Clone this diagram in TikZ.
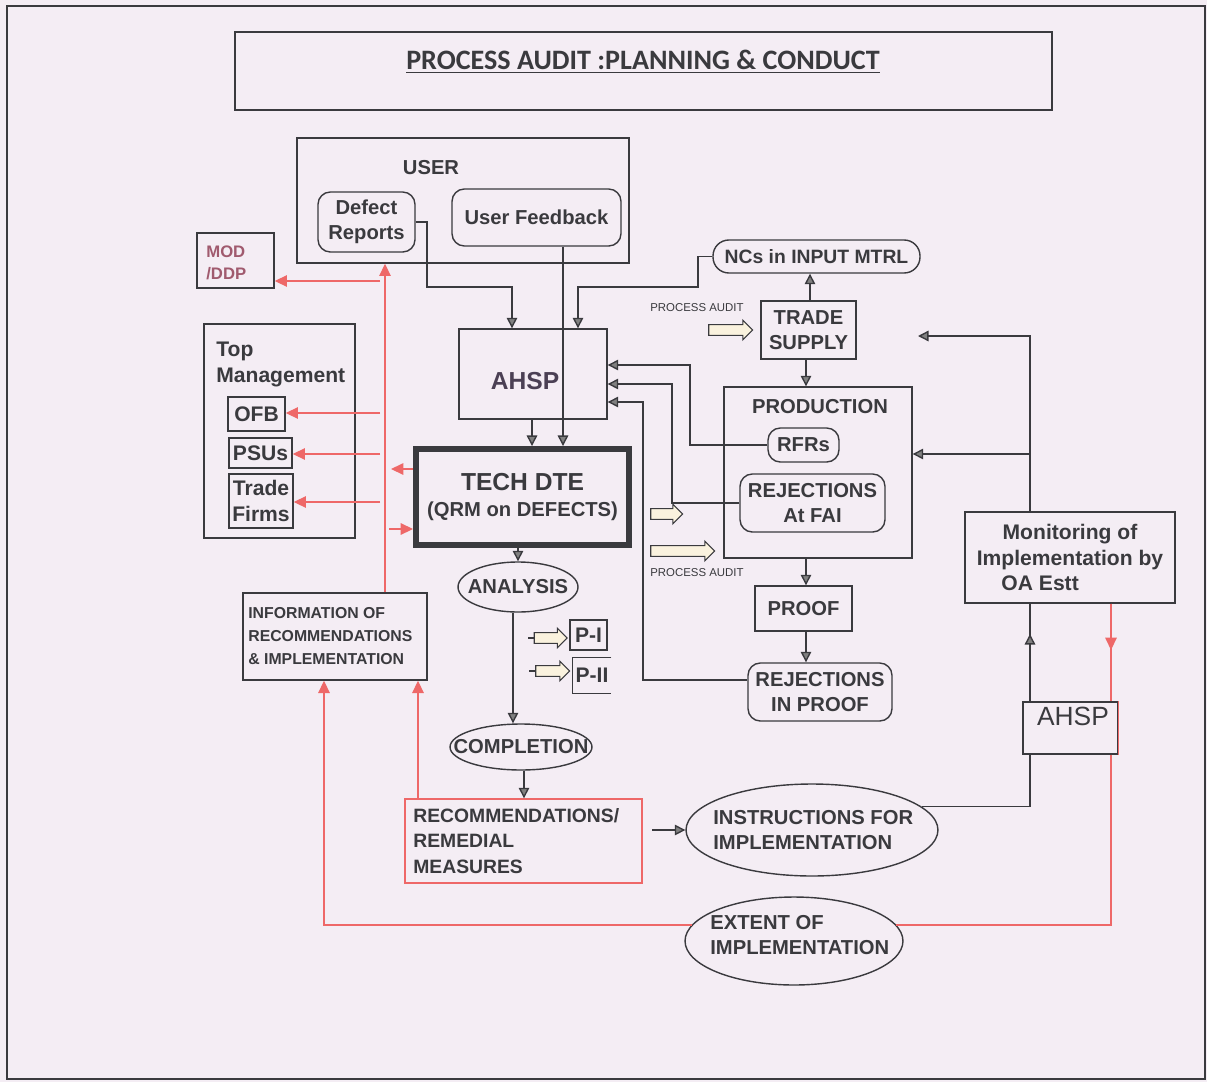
\documentclass[tikz,border=0pt]{standalone}
\usepackage{fontspec}
\setmainfont{Liberation Sans}
\newfontfamily\titlefont{Carlito}
\usetikzlibrary{arrows.meta,shapes.geometric,shapes.arrows}
\definecolor{paper}{RGB}{244,237,244}
\definecolor{ink}{RGB}{58,58,62}
\definecolor{redln}{RGB}{238,104,104}
\definecolor{cream}{RGB}{250,242,222}
\definecolor{modred}{RGB}{160,90,110}
\definecolor{ahspcol}{RGB}{75,64,84}
\tikzset{every node/.style={font=\fontsize{11.5}{14}\selectfont\bfseries, text=ink, inner sep=0pt},
  box/.style={draw=ink, line width=0.8pt, rectangle},
  rbox/.style={draw=ink, line width=0.8pt, rounded corners=7pt},
  oval/.style={draw=ink, line width=0.8pt, ellipse},
  wire/.style={draw=ink, line width=0.8pt},
  flow/.style={draw=ink, line width=0.8pt, -{Triangle[length=6pt,width=6pt,fill=gray]}},
  redline/.style={draw=redln, line width=0.8pt},
  redflow/.style={draw=redln, line width=0.8pt, -{Triangle[length=7pt,width=6.5pt,fill=redln]}},
  blockarrow/.style={single arrow, draw=ink, fill=cream, line width=0.6pt, inner sep=2.8pt,
                     single arrow head extend=2.5pt, minimum height=#1},
  tinytxt/.style={font=\fontsize{6.5}{8}\selectfont}}

\begin{document}
\begin{tikzpicture}[x=0.02cm,y=-0.02cm]
   \fill[paper] (0,0) rectangle (1207,1082);
   \useasboundingbox (0,0) rectangle (1207,1082);
   \draw[ink, line width=1pt] (7,6) rectangle (1205,1079);
   % title
   \node[box, minimum width=16.34cm, minimum height=1.56cm] (title) at (643.5,71) {};
   \node[font={\titlefont\bfseries\fontsize{16}{19}\selectfont}] (titletext) at (643,62)
        {\underline{PROCESS AUDIT :PLANNING \& CONDUCT}};
   % user side
   \begin{scope}
    \node[box, minimum width=6.64cm, minimum height=2.5cm] (user) at (463,200.5) {};
    \node (userlbl) at (431,168) {USER};
    \node[rbox, minimum width=1.94cm, minimum height=1.2cm, align=center] (defect) at (366.5,222) {Defect\\Reports};
    \node[rbox, minimum width=3.38cm, minimum height=1.14cm] (feedback) at (536.5,217.5) {User Feedback};
    \node[box, minimum width=1.54cm, minimum height=1.1cm] (mod) at (235.5,260.5) {};
    \node[anchor=west, align=left, text=modred, font=\fontsize{9.5}{12.5}\selectfont\bfseries] (modlbl) at (206,263) {MOD\\/DDP};
   \end{scope}
   % top management
   \begin{scope}[every node/.append style={font=\fontsize{12}{14.5}\selectfont\bfseries}]
    \node[box, minimum width=3.02cm, minimum height=4.28cm] (topmgmt) at (279.5,431) {};
    \node[anchor=north west, align=left] (toplbl) at (216,342) {Top\\Management};
    \node[box, minimum width=1.14cm, minimum height=0.68cm] (ofb) at (256.5,414) {OFB};
    \node[box, minimum width=1.26cm, minimum height=0.6cm] (psu) at (260.5,453) {PSUs};
    \node[box, minimum width=1.28cm, minimum height=1.08cm, align=center] (firms) at (261,501) {Trade\\Firms};
   \end{scope}
   % centre column
   \node[box, minimum width=2.96cm, minimum height=1.8cm] (ahsp) at (533,374) {};
   \node[text=ahspcol, font=\fontsize{14}{16}\selectfont\bfseries] (ahsplbl) at (525,381) {AHSP};
   \node[box, line width=3.4pt, minimum width=4.26cm, minimum height=1.92cm, align=center] (tech) at (522.5,497)
        {\fontsize{14}{18}\selectfont TECH DTE\\[1pt]\fontsize{11.5}{14}\selectfont (QRM on DEFECTS)};
   \node[oval, minimum width=2.4cm, minimum height=1cm] (analysis) at (518,587) {};
   \node (analysislbl) at (518,587) {ANALYSIS};
   \node[box, minimum width=0.74cm, minimum height=0.6cm, font=\fontsize{12}{14}\selectfont\bfseries] (p1) at (588.5,635) {P-I};
   \node[minimum width=0.76cm, minimum height=0.7cm, font=\fontsize{12}{14}\selectfont\bfseries] (p2) at (592,675.5) {P-II};
   \draw[wire] (p2.north east) -- (p2.north west) -- (p2.south west) -- (p2.south east);
   \node[blockarrow=0.66cm] (pa1) at (548,638) {};
   \node[blockarrow=0.68cm] (pa2) at (550,671) {};
   \draw[wire] (pa1.tail) -- ++(-6,0);
   \draw[wire] (pa2.tail) -- ++(-6,0);
   \node[oval, minimum width=2.84cm, minimum height=0.92cm] (completion) at (521,747) {};
   \node (completionlbl) at (521,747) {COMPLETION};
   \node[box, minimum width=3.68cm, minimum height=1.74cm] (info) at (335,636.5) {};
   \node[anchor=west, align=left, font=\fontsize{9}{13}\selectfont\bfseries] (infolbl) at (248,636)
        {INFORMATION OF\\RECOMMENDATIONS\\\& IMPLEMENTATION};
   \node[box, draw=redln, minimum width=4.74cm, minimum height=1.68cm] (recom) at (523.5,841) {};
   \node[anchor=west, align=left, font=\fontsize{11}{14.5}\selectfont\bfseries] (recomlbl) at (413,841)
        {RECOMMENDATIONS/\\REMEDIAL\\MEASURES};
   % production side
   \node[rbox, rounded corners=9pt, minimum width=4.14cm, minimum height=0.66cm, font=\fontsize{11}{13}\selectfont\bfseries] (ncs) at (816.5,256.5) {NCs in INPUT MTRL};
   \node[box, minimum width=1.9cm, minimum height=1.16cm, align=center] (trade) at (808.5,330) {TRADE\\SUPPLY};
   \node[tinytxt] (palbl1) at (697,308) {PROCESS AUDIT};
   \node[blockarrow=0.88cm] (pa3) at (728,330) {};
   \node[box, minimum width=3.76cm, minimum height=3.42cm] (prod) at (818,472.5) {};
   \node (prodlbl) at (820,407) {PRODUCTION};
   \node[rbox, minimum width=1.42cm, minimum height=0.68cm] (rfr) at (803.5,445) {RFRs};
   \node[rbox, minimum width=2.9cm, minimum height=1.16cm, align=center] (rejfai) at (812.5,503) {REJECTIONS\\At FAI};
   \node[blockarrow=0.64cm] (pa4) at (664,514) {};
   \node[blockarrow=1.28cm] (pa5) at (680,551) {};
   \node[tinytxt] (palbl2) at (697,573) {PROCESS AUDIT};
   \node[box, minimum width=1.94cm, minimum height=0.9cm] (proof) at (803.5,608.5) {PROOF};
   \node[rbox, minimum width=2.88cm, minimum height=1.16cm, align=center] (rejproof) at (820,692) {REJECTIONS\\IN PROOF};
   % monitoring
   \node[box, minimum width=4.2cm, minimum height=1.82cm, align=center, font=\fontsize{12}{14.5}\selectfont\bfseries] (mon) at (1070,557.5)
        {Monitoring of\\Implementation by\\OA Estt\hspace*{34pt}};
   \node[box, minimum width=1.9cm, minimum height=1.04cm] (ahsp2) at (1070.5,728) {};
   \node[font=\fontsize{15}{17}\selectfont] (ahsp2lbl) at (1073,716) {AHSP};
   \node[oval, minimum width=5.04cm, minimum height=1.84cm] (instr) at (812,830) {};
   \node[anchor=west, align=left] (instrlbl) at (713,830) {INSTRUCTIONS FOR\\IMPLEMENTATION};
   \node[oval, minimum width=4.36cm, minimum height=1.76cm] (extent) at (794,941) {};
   \node[anchor=west, align=left] (extentlbl) at (710,935) {EXTENT OF\\IMPLEMENTATION};
   \coordinate (tradein) at (918,336);
   % black connectors
   \draw[flow] (defect.east) -| (427,287) -| (ahsp.north -| 512,0);
   \draw[flow] (feedback.south -| 563,0) -- (tech.north -| 563,0);
   \draw[flow] (ahsp.south -| 532,0) -- (tech.north -| 532,0);
   \draw[flow] (ncs.west) -| (698,287) -| (ahsp.north -| 578,0);
   \draw[flow] (trade.north -| 810,0) -- (ncs.south -| 810,0);
   \draw[flow] (trade.south -| 806,0) -- (prod.north -| 806,0);
   \draw[flow] (rfr.west) -| (690,365) -- (ahsp.east |- 0,365);
   \draw[flow] (rejfai.west) -| (672,384) -- (ahsp.east |- 0,384);
   \draw[flow] (rejproof.west |- 0,680) -| (643,402) -- (ahsp.east |- 0,402);
   \draw[flow] (prod.south -| 806,0) -- (proof.north -| 806,0);
   \draw[flow] (proof.south -| 806,0) -- (rejproof.north -| 806,0);
   \draw[flow] (mon.north -| 1030,0) |- (tradein);
   \draw[flow] (1030,454) -- (prod.east |- 0,454);
   \draw[wire] (ahsp2.north -| 1030,0) -- (mon.south -| 1030,0);
   \draw[flow] (ahsp2.north -| 1030,0) -- (1030,634);
   \draw[wire] (ahsp2.south -| 1030,0) |- (instr.12);
   \draw[flow, shorten <=5.5pt] (recom.east |- instr.west) -- (instr.west);
   \draw[flow] (tech.south -| analysis.north) -- (analysis.north);
   \draw[flow] (analysis.south -| 513,0) -- (completion.north -| 513,0);
   \draw[flow] (completion.south -| 524,0) -- (recom.north -| 524,0);
   % red connectors
   \draw[redflow] (info.north -| 385,0) -- (user.south -| 385,0);
   \draw[redflow] (380,281) -- (mod.east |- 0,281);
   \draw[redflow] (380,413) -- (ofb.east |- 0,413);
   \draw[redflow] (380,454) -- (psu.east |- 0,454);
   \draw[redflow] (380,502) -- (firms.east |- 0,502);
   \draw[redflow] (tech.west |- 0,469) -- (391,469);
   \draw[redflow] (389,529) -- (tech.west |- 0,529);
   \draw[redflow] (recom.north -| 418,0) -- (info.south -| 418,0);
   \draw[redline] (mon.south -| 1111,0) -- (ahsp2.north -| 1111,0);
   \draw[redflow] (mon.south -| 1111,0) -- (1111,650);
   \draw[redline] (ahsp2.north east) -- (ahsp2.south east);
   \draw[redline] (ahsp2.south -| 1111,0) |- (extent.9);
   \draw[redflow] (extent.171) -| (info.south -| 324,0);
\end{tikzpicture}
\end{document}
